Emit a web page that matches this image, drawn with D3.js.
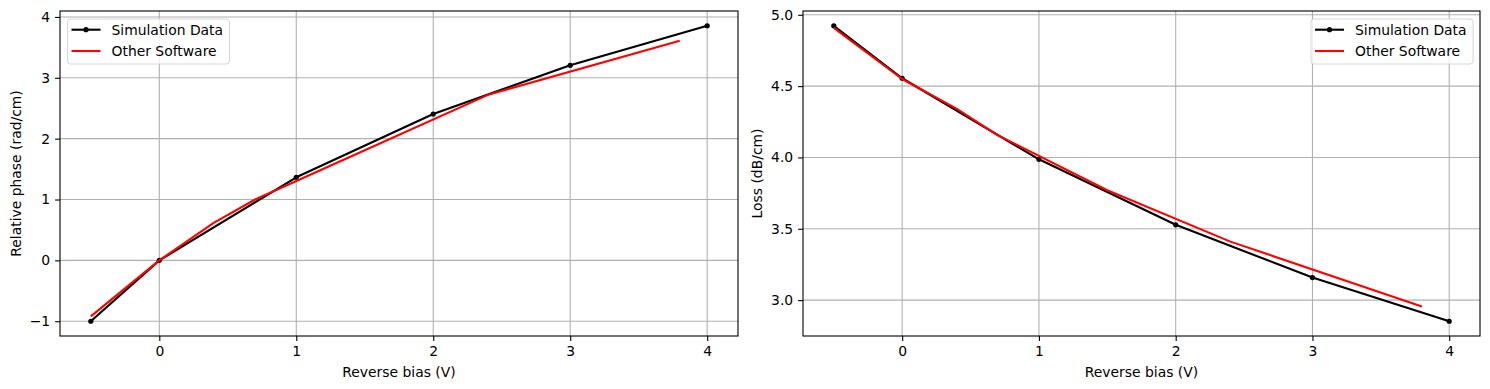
<!DOCTYPE html>
<html>
<head>
<meta charset="utf-8">
<script src="https://cdn.jsdelivr.net/npm/d3@7"></script>
<style>
  body { margin: 0; background: #fff; }
  svg { font-family: "DejaVu Sans", sans-serif; }
</style>
</head>
<body>
<svg id="chart" width="1490" height="389"></svg>
<script>
// reverse bias values (V)
var simBias = [-0.5, 0, 1, 2, 3, 4];
var simPhase = [-1.0, 0, 1.365, 2.405, 3.205, 3.855];
var simLoss = [4.923, 4.555, 3.987, 3.528, 3.158, 2.852];

var refBias = [-0.5, 0, 0.4, 0.7, 1.5, 2.4, 3.8];
var refPhase = [-0.92, 0, 0.62, 1.0, 1.81, 2.72, 3.61];
var refLoss = [4.908, 4.55, 4.34, 4.155, 3.77, 3.41, 2.955];

var xTicks = [0, 1, 2, 3, 4];
var phaseTicks = [-1, 0, 1, 2, 3, 4];
var lossTicks = [3.0, 3.5, 4.0, 4.5, 5.0];

var seriesNames = ["Simulation Data", "Other Software"];

var svg = d3.select("#chart");

// matplotlib-like 5% padding
function padded(vals) {
  var lo = d3.min(vals), hi = d3.max(vals), m = (hi - lo) * 0.05;
  return [lo - m, hi + m];
}

function fmtMinus(s) { return s.replace("-", "\u2212"); }

function drawPanel(opts) {
  var g = svg.append("g");
  var x = d3.scaleLinear()
    .domain(padded(simBias.concat(refBias)))
    .range([opts.left, opts.right]);
  var y = d3.scaleLinear()
    .domain(padded(opts.sim.concat(opts.ref)))
    .range([opts.bottom, opts.top]);

  // grid
  g.append("g").selectAll("line").data(xTicks).enter().append("line")
    .attr("x1", d => x(d)).attr("x2", d => x(d))
    .attr("y1", opts.top).attr("y2", opts.bottom)
    .attr("stroke", "#b0b0b0").attr("stroke-width", 1.1);
  g.append("g").selectAll("line").data(opts.yTicks).enter().append("line")
    .attr("y1", d => y(d)).attr("y2", d => y(d))
    .attr("x1", opts.left).attr("x2", opts.right)
    .attr("stroke", "#b0b0b0").attr("stroke-width", 1.1);

  // lines
  var line = d3.line().x(d => x(d[0])).y(d => y(d[1]));
  g.append("path")
    .datum(simBias.map((b, i) => [b, opts.sim[i]]))
    .attr("fill", "none").attr("stroke", "#000").attr("stroke-width", 2.1)
    .attr("stroke-linejoin", "round")
    .attr("d", line);
  g.append("g").selectAll("circle").data(simBias.map((b, i) => [b, opts.sim[i]]))
    .enter().append("circle")
    .attr("cx", d => x(d[0])).attr("cy", d => y(d[1])).attr("r", 2.6)
    .attr("fill", "#000");
  g.append("path")
    .datum(refBias.map((b, i) => [b, opts.ref[i]]))
    .attr("fill", "none").attr("stroke", "#ff0000").attr("stroke-width", 2.1)
    .attr("stroke-linejoin", "round")
    .attr("d", line);

  // axes
  var xAxis = g.append("g")
    .attr("transform", "translate(0," + opts.bottom + ")")
    .call(d3.axisBottom(x).tickValues(xTicks).tickSize(4.9).tickPadding(4.9)
      .tickFormat(d3.format("d")));
  var yAxis = g.append("g")
    .attr("transform", "translate(" + opts.left + ",0)")
    .call(d3.axisLeft(y).tickValues(opts.yTicks).tickSize(4.9).tickPadding(4.9)
      .tickFormat(d => fmtMinus(opts.yFormat(d))));
  [xAxis, yAxis].forEach(function (a) {
    a.select(".domain").remove();
    a.selectAll(".tick line").attr("stroke", "#000").attr("stroke-width", 1.1);
    a.selectAll(".tick text").attr("fill", "#000")
      .style("font-family", "DejaVu Sans").style("font-size", "13.9px");
  });

  // frame
  g.append("rect")
    .attr("x", opts.left).attr("y", opts.top)
    .attr("width", opts.right - opts.left).attr("height", opts.bottom - opts.top)
    .attr("fill", "none").attr("stroke", "#000").attr("stroke-width", 1.1);

  // labels
  g.append("text")
    .attr("x", (opts.left + opts.right) / 2).attr("y", 377)
    .attr("text-anchor", "middle").style("font-size", "13.9px")
    .text("Reverse bias (V)");
  g.append("text")
    .attr("transform", "translate(" + opts.ylabelX + "," + ((opts.top + opts.bottom) / 2) + ") rotate(-90)")
    .attr("text-anchor", "middle").attr("dy", "0.35em").style("font-size", "13.9px")
    .text(opts.ylabel);

  // legend
  var lg = g.append("g").attr("transform", "translate(" + opts.legX + "," + 19 + ")");
  lg.append("rect")
    .attr("width", opts.legW).attr("height", 45).attr("rx", 3)
    .attr("fill", "#fff").attr("fill-opacity", 0.8)
    .attr("stroke", "#d6d6d6").attr("stroke-width", 1);
  var colors = ["#000", "#ff0000"];
  seriesNames.forEach(function (name, i) {
    var yy = 10.7 + i * 21.3;
    lg.append("line")
      .attr("x1", 4).attr("x2", 33).attr("y1", yy).attr("y2", yy)
      .attr("stroke", colors[i]).attr("stroke-width", 2.1);
    if (i === 0) {
      lg.append("circle").attr("cx", 18.5).attr("cy", yy).attr("r", 2.6).attr("fill", "#000");
    }
    lg.append("text")
      .attr("x", 44).attr("y", yy).attr("dy", "0.35em")
      .style("font-size", "13.9px").text(name);
  });
}

drawPanel({
  left: 60, right: 738, top: 11, bottom: 336,
  sim: simPhase, ref: refPhase, yTicks: phaseTicks,
  yFormat: d3.format("d"),
  ylabel: "Relative phase (rad/cm)", ylabelX: 16,
  legX: 67.5, legW: 162
});

drawPanel({
  left: 803, right: 1480, top: 11, bottom: 336,
  sim: simLoss, ref: refLoss, yTicks: lossTicks,
  yFormat: d3.format(".1f"),
  ylabel: "Loss (dB/cm)", ylabelX: 757,
  legX: 1311, legW: 162
});
</script>
</body>
</html>
